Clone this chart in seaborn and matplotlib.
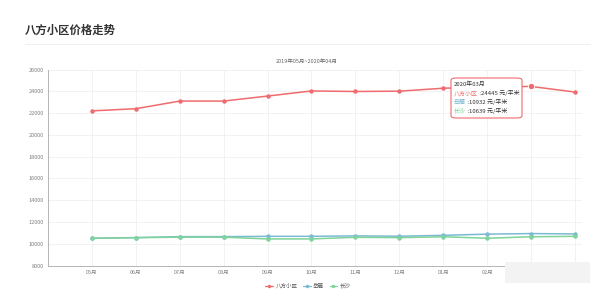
import matplotlib
matplotlib.use("Agg")
import matplotlib.pyplot as plt
import seaborn as sns
import pandas as pd
from matplotlib.patches import FancyBboxPatch, Rectangle
from matplotlib.lines import Line2D

sns.set_theme(style="white")
plt.rcParams['font.family'] = ['Noto Sans CJK SC', 'DejaVu Sans']

months = ["05月", "06月", "07月", "08月", "09月", "10月", "11月", "12月", "01月", "02月", "03月", "04月"]
bafang = [22200, 22400, 23100, 23100, 23560, 24030, 23980, 24010, 24280, 24400, 24445, 23930]
yuelu = [10500, 10560, 10650, 10650, 10680, 10680, 10720, 10690, 10770, 10880, 10932, 10900]
changsha = [10500, 10560, 10600, 10600, 10440, 10440, 10590, 10560, 10640, 10500, 10639, 10680]
series_names = ["八方小区", "岳麓", "长沙"]
colors = ["#f06b6e", "#7bbad3", "#7fd39b"]
yticks = [8000, 10000, 12000, 14000, 16000, 18000, 20000, 22000, 24000, 26000]
title = "八方小区价格走势"
subtitle = "2019年05月~2020年04月"
tip_index = 10
tip_title = "2020年03月"

W, H = 595, 295
fig = plt.figure(figsize=(W / 100, H / 100), dpi=100)

def fx(px):
    return px / W

def fy(py):
    return 1 - py / H

ax_l, ax_r, ax_t, ax_b = 48, 582, 69.5, 265.5
ax = fig.add_axes([fx(ax_l), fy(ax_b), fx(ax_r - ax_l), (ax_b - ax_t) / H])

df = pd.DataFrame({
    "month": months * 3,
    "pos": list(range(len(months))) * 3,
    "value": bafang + yuelu + changsha,
    "series": [series_names[0]] * len(months) + [series_names[1]] * len(months) + [series_names[2]] * len(months),
})

sns.lineplot(data=df, x="pos", y="value", hue="series", hue_order=series_names,
             palette=colors, marker="o", markersize=3.2, markeredgewidth=0,
             linewidth=1.1, sort=False, ax=ax, legend=False, zorder=3)

# highlighted point under tooltip
ax.plot([tip_index], [bafang[tip_index]], marker="o", markersize=4.5, color=colors[0],
        markeredgecolor="white", markeredgewidth=0.6, zorder=4)

ax.set_xlim(-1, 11.16)
ax.set_ylim(8000, 26000)
ax.set_yticks(yticks)
ax.set_yticklabels([str(v) for v in yticks], fontsize=4, color="#808080")
ax.set_xticks(range(len(months)))
ax.set_xticklabels(months, fontsize=4, color="#808080")
ax.set_xlabel("")
ax.set_ylabel("")
ax.tick_params(axis="y", length=2, width=0.5, color="#999999", pad=1)
ax.tick_params(axis="x", length=0, pad=3)
ax.grid(True, color="#f0f0f0", linewidth=0.6)
for side in ["top", "right"]:
    ax.spines[side].set_visible(False)
for side in ["left", "bottom"]:
    ax.spines[side].set_color("#aaaaaa")
    ax.spines[side].set_linewidth(0.6)

# title and divider
fig.text(fx(25), fy(30), title, fontsize=8.2, fontweight="bold", color="#333333", va="center", ha="left")
fig.add_artist(Line2D([fx(25), fx(590)], [fy(44), fy(44)], color="#eeeeee", linewidth=0.6))
fig.text(fx(307), fy(61), subtitle, fontsize=4, color="#666666", va="center", ha="center")

# legend
handles = [Line2D([0], [0], color=c, marker="o", markersize=2.5, linewidth=0.9, markeredgewidth=0) for c in colors]
leg = fig.legend(handles, series_names, loc="center", bbox_to_anchor=(fx(308), fy(286)), ncol=3,
                 frameon=False, fontsize=4, handlelength=1.4, handletextpad=0.4, columnspacing=1.0)
for t in leg.get_texts():
    t.set_color("#555555")

# tooltip
box = FancyBboxPatch((fx(451), fy(118)), fx(522 - 451), (118 - 78) / H,
                     boxstyle="round,pad=0,rounding_size=0.008", transform=fig.transFigure,
                     facecolor="white", edgecolor=colors[0], linewidth=0.8, zorder=10)
fig.add_artist(box)
fig.text(fx(454), fy(84.5), tip_title, fontsize=4.3, color="#333333", va="center", ha="left", zorder=11)
vals = [bafang[tip_index], yuelu[tip_index], changsha[tip_index]]
rows_y = [93.5, 102, 110.5]
for name, val, c, yy in zip(series_names, vals, colors, rows_y):
    t1 = fig.text(fx(454), fy(yy), name, fontsize=4.3, color=c, va="center", ha="left", zorder=11)
    fig.canvas.draw()
    bb = t1.get_window_extent()
    x2 = bb.x1 / fig.dpi / fig.get_size_inches()[0]
    fig.text(x2, fy(yy), f" :{val} 元/平米", fontsize=4.3, color="#333333", va="center", ha="left", zorder=11)

# blurred watermark area
fig.add_artist(Rectangle((fx(505), fy(283)), fx(85), 21 / H, transform=fig.transFigure,
                         facecolor="#f3f3f3", edgecolor="none", zorder=12))

fig.savefig("out.png", dpi=100, facecolor="white")
